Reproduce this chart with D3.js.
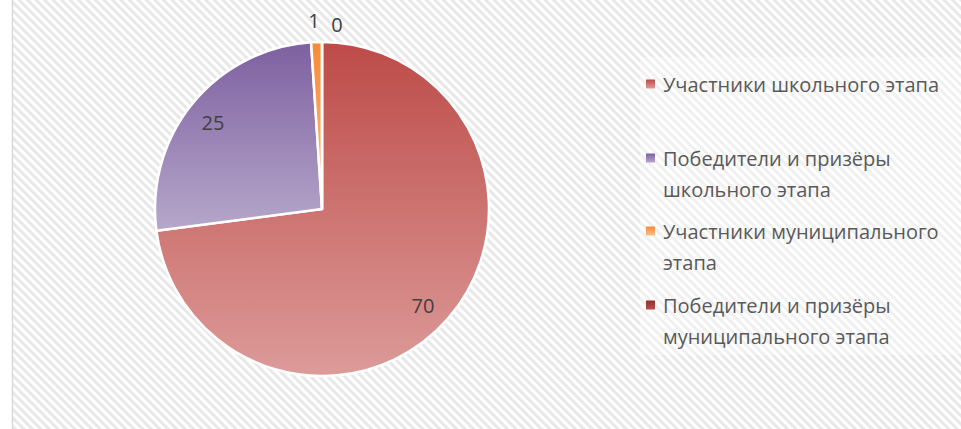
<!DOCTYPE html>
<html><head><meta charset="utf-8">
<script src="https://cdn.jsdelivr.net/npm/d3@7"></script>
<style>html,body{margin:0;padding:0;background:#fff;}svg{display:block;}</style>
</head><body>
<script>
const categories = ["Участники школьного этапа", "Победители и призёры школьного этапа", "Участники муниципального этапа", "Победители и призёры муниципального этапа"];
const values = [70, 25, 1, 0];
const legendLines = [["Участники школьного этапа"], ["Победители и призёры", "школьного этапа"], ["Участники муниципального", "этапа"], ["Победители и призёры", "муниципального этапа"]];
const colorsTop = ["#bd4b48", "#7d60a0", "#f68a36", "#8e302e"];
const colorsBottom = ["#dc9b99", "#b6a7ca", "#fbbd8f", "#b8504c"];

const W = 961, H = 429;
const svg = d3.select("body").append("svg").attr("width", W).attr("height", H);
const defs = svg.append("defs");
const pat = defs.append("pattern").attr("id", "stripes").attr("patternUnits", "userSpaceOnUse")
  .attr("width", 6).attr("height", 6).attr("patternTransform", "rotate(-45)");
pat.append("rect").attr("width", 6).attr("height", 6).attr("fill", "#ffffff");
pat.append("rect").attr("width", 3).attr("height", 6).attr("fill", "#e8e8e8");

categories.forEach((c, i) => {
  const g = defs.append("linearGradient").attr("id", "g" + i).attr("x1", 0).attr("y1", 0).attr("x2", 0).attr("y2", 1);
  g.append("stop").attr("offset", "0%").attr("stop-color", colorsTop[i]);
  g.append("stop").attr("offset", "100%").attr("stop-color", colorsBottom[i]);
});

svg.append("rect").attr("x", 12.5).attr("y", -2).attr("width", W + 10).attr("height", H + 10)
  .attr("fill", "url(#stripes)").attr("stroke", "#d9d9d9").attr("stroke-width", 1.5);

const cx = 322, cy = 209, R = 167;
const pie = d3.pie().sort(null).value(d => d);
const arcs = pie(values);
const arc = d3.arc().innerRadius(0).outerRadius(R);
const gp = svg.append("g").attr("transform", `translate(${cx},${cy})`);
gp.selectAll("path").data(arcs).enter().append("path")
  .attr("d", arc).attr("fill", (d, i) => `url(#g${i})`)
  .attr("stroke", "#fff").attr("stroke-width", 2.5).attr("stroke-linejoin", "round");

const labelPos = [[101, 96], [-109, -87], [-8, -189], [15, -185]];
gp.selectAll("text.lbl").data(arcs).enter().append("text")
  .attr("class", "lbl")
  .attr("x", (d, i) => labelPos[i][0]).attr("y", (d, i) => labelPos[i][1])
  .attr("text-anchor", "middle").attr("dominant-baseline", "central")
  .attr("font-family", "Open Sans, sans-serif").attr("font-size", 20).attr("fill", "#404040")
  .text(d => d.data);

svg.append("rect").attr("x", 640).attr("y", 57).attr("width", 330).attr("height", 298)
  .attr("fill", "#fff").attr("opacity", 0.35);

const itemY = [84, 158, 231, 305];
const lg = svg.append("g");
categories.forEach((c, i) => {
  lg.append("rect").attr("x", 646).attr("y", itemY[i] - 4.5).attr("width", 9).attr("height", 9)
    .attr("fill", `url(#g${i})`);
  legendLines[i].forEach((t, j) => {
    lg.append("text").attr("x", 663).attr("y", itemY[i] + j * 31.5)
      .attr("dominant-baseline", "central")
      .attr("font-family", "Open Sans, sans-serif").attr("font-size", 20).attr("fill", "#595959")
      .text(t);
  });
});
</script>
</body></html>
